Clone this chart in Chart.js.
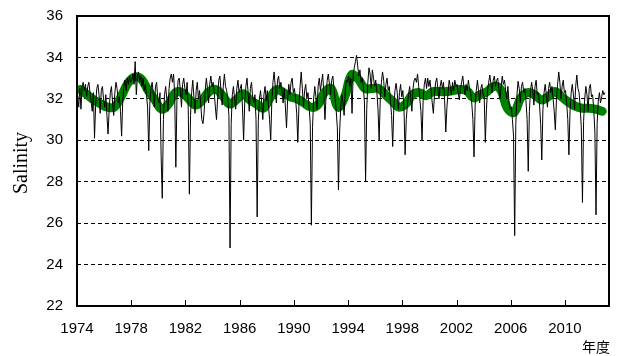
<!DOCTYPE html>
<html>
<head>
<meta charset="utf-8">
<script src="https://cdn.jsdelivr.net/npm/chart.js@4.4.1/dist/chart.umd.min.js"></script>
<style>
  html, body { margin: 0; padding: 0; background: #fff; }
  #wrap { width: 622px; height: 356px; }
</style>
</head>
<body>
<div id="wrap"><canvas id="chart" width="622" height="356"></canvas></div>
<script>
/* ================= DATA ================= */
const startYear = 1974;
const tickYears = [1974, 1978, 1982, 1986, 1990, 1994, 1998, 2002, 2006, 2010];

// monthly salinity, one row per year (12 values)
const monthlySalinity = [
  32.2, 31.6, 32.5, 31.5, 32.6, 32.8, 32.4, 32.7, 32.1, 32.6, 32.8, 32.3, // 1974
  31.9, 31.4, 32.3, 30.1, 31.7, 32.5, 32.7, 32.2, 31.3, 32.4, 32.6, 32.0, // 1975
  31.6, 32.2, 31.2, 30.3, 31.5, 32.3, 32.6, 31.8, 31.2, 32.3, 32.8, 32.5, // 1976
  31.8, 32.1, 31.4, 30.2, 31.9, 32.6, 32.9, 32.4, 33.0, 32.7, 33.1, 32.8, // 1977
  32.9, 33.2, 32.7, 33.8, 32.2, 33.1, 33.3, 32.8, 33.1, 32.6, 33.0, 32.4, // 1978
  32.7, 32.2, 31.6, 29.5, 31.8, 32.5, 32.8, 32.3, 31.6, 32.6, 32.8, 32.0, // 1979
  31.8, 32.3, 29.2, 27.2, 31.0, 32.2, 32.6, 32.0, 31.4, 32.5, 33.0, 33.2, // 1980
  32.8, 33.2, 32.2, 28.7, 32.0, 32.9, 33.0, 32.4, 31.6, 32.7, 33.0, 32.5, // 1981
  32.2, 32.8, 31.5, 27.4, 31.2, 32.3, 32.9, 32.1, 31.3, 32.4, 32.8, 32.0, // 1982
  32.4, 31.8, 31.0, 30.8, 31.3, 32.4, 33.0, 32.5, 31.8, 32.7, 33.1, 32.6, // 1983
  32.8, 32.3, 31.6, 31.0, 32.0, 32.9, 33.1, 32.4, 31.7, 32.6, 33.2, 32.6, // 1984
  32.4, 32.0, 31.2, 24.8, 30.8, 32.2, 32.6, 32.0, 31.5, 32.5, 32.9, 32.3, // 1985
  32.5, 32.7, 31.6, 30.0, 31.8, 32.6, 33.0, 32.3, 31.4, 32.5, 32.8, 32.1, // 1986
  31.8, 32.2, 31.0, 26.3, 30.9, 32.0, 32.4, 31.8, 31.0, 32.2, 32.6, 31.9, // 1987
  32.4, 31.7, 31.0, 30.0, 31.9, 32.8, 33.3, 32.6, 31.8, 32.9, 33.1, 32.5, // 1988
  32.8, 32.4, 31.8, 32.5, 31.6, 30.6, 32.0, 32.7, 32.2, 32.8, 33.0, 32.3, // 1989
  32.5, 32.0, 31.3, 29.9, 31.7, 32.6, 33.3, 32.5, 31.6, 32.4, 32.7, 32.0, // 1990
  32.3, 31.6, 30.8, 25.9, 30.6, 32.0, 32.6, 32.1, 31.5, 32.6, 33.0, 32.4, // 1991
  32.8, 33.2, 32.3, 31.0, 32.1, 32.9, 33.2, 32.7, 32.2, 32.9, 33.1, 32.5, // 1992
  32.0, 31.4, 30.6, 27.6, 30.4, 31.6, 32.2, 31.8, 31.2, 32.4, 32.9, 32.8, // 1993
  33.1, 32.6, 33.0, 31.3, 33.2, 33.5, 33.8, 34.1, 33.6, 33.1, 33.4, 32.8, // 1994
  33.0, 32.6, 31.8, 28.0, 31.5, 32.8, 33.5, 33.2, 32.5, 33.4, 33.0, 32.6, // 1995
  32.9, 32.3, 31.5, 30.0, 32.0, 32.8, 33.3, 32.9, 32.1, 32.7, 33.0, 32.4, // 1996
  32.6, 31.9, 31.2, 29.7, 31.6, 32.4, 32.75, 32.3, 31.5, 32.3, 32.7, 32.1, // 1997
  32.4, 31.5, 29.3, 31.0, 31.7, 32.2, 32.6, 32.0, 31.4, 32.5, 32.9, 33.0, // 1998
  32.8, 33.2, 32.6, 32.0, 31.4, 30.0, 32.0, 32.7, 33.0, 32.5, 33.0, 32.6, // 1999
  32.9, 32.4, 31.8, 31.3, 32.2, 32.8, 33.0, 32.5, 32.0, 32.6, 32.9, 32.5, // 2000
  32.8, 31.9, 30.4, 31.6, 32.3, 32.9, 32.6, 32.2, 32.8, 32.4, 32.9, 32.6, // 2001
  32.7, 32.3, 31.95, 32.5, 32.8, 33.1, 32.6, 32.2, 32.7, 32.4, 32.9, 32.5, // 2002
  32.3, 31.8, 31.0, 29.2, 31.7, 32.4, 32.9, 32.4, 31.8, 32.5, 32.7, 32.2, // 2003
  32.1, 29.9, 31.5, 32.4, 32.8, 33.15, 32.7, 32.3, 32.9, 33.1, 32.6, 32.9, // 2004
  33.0, 32.5, 32.0, 32.6, 33.1, 32.7, 32.9, 32.4, 32.0, 32.6, 31.8, 31.5, // 2005
  31.6, 31.0, 30.2, 25.4, 30.8, 32.2, 32.85, 32.5, 31.8, 32.6, 32.8, 32.3, // 2006
  32.5, 31.9, 31.0, 28.5, 31.4, 32.4, 32.8, 32.4, 31.7, 32.6, 32.9, 32.2, // 2007
  32.3, 31.7, 30.8, 29.05, 31.5, 32.3, 32.7, 32.2, 31.6, 32.5, 32.8, 32.3, // 2008
  32.6, 32.0, 31.4, 30.5, 32.0, 32.7, 33.3, 32.8, 32.0, 32.6, 32.9, 32.3, // 2009
  32.4, 31.8, 31.0, 29.3, 31.4, 32.3, 32.7, 32.2, 31.5, 32.6, 33.15, 32.5, // 2010
  32.3, 31.6, 30.6, 27.0, 30.9, 32.0, 32.6, 32.2, 31.4, 32.5, 32.7, 32.1, // 2011
  32.2, 31.5, 30.4, 26.4, 30.8, 31.9, 32.3, 31.8, 32.1, 32.4, 32.2, 32.3  // 2012
];

// running mean, two values per year (Apr / Oct of each year)
const smoothedSalinity = [
  32.45, 32.2,  // 1974
  31.95, 31.75, // 1975
  31.6, 31.6,   // 1976
  32.1, 32.75,  // 1977
  33.05, 32.95, // 1978
  32.4, 31.95,  // 1979
  31.5, 31.75,  // 1980
  32.3, 32.3,   // 1981
  32.0, 31.7,   // 1982
  31.95, 32.35, // 1983
  32.45, 32.15, // 1984
  31.75, 31.95, // 1985
  32.25, 31.95, // 1986
  31.75, 31.55, // 1987
  32.05, 32.45, // 1988
  32.3, 32.1,   // 1989
  32.0, 31.8,   // 1990
  31.6, 31.7,   // 1991
  32.3, 32.5,   // 1992
  31.6, 32.1,   // 1993
  33.15, 32.95, // 1994
  32.5, 32.5,   // 1995
  32.5, 32.2,   // 1996
  31.9, 31.6,   // 1997
  31.75, 32.2,  // 1998
  32.3, 32.15,  // 1999
  32.35, 32.35, // 2000
  32.35, 32.4,  // 2001
  32.45, 32.4,  // 2002
  32.05, 32.2,  // 2003
  32.35, 32.6,  // 2004
  32.45, 31.55, // 2005
  31.35, 32.05, // 2006
  32.3, 32.2,   // 2007
  31.95, 32.1,  // 2008
  32.35, 32.1,  // 2009
  31.85, 31.65, // 2010
  31.55, 31.55, // 2011
  31.5, 31.4    // 2012
];

/* ================= CHART ================= */
const monthlyPoints = monthlySalinity.map((v, i) => ({ x: startYear + (i + 0.5) / 12, y: v }));
const smoothPoints = smoothedSalinity.map((v, i) => ({ x: startYear + 0.25 + i * 0.5, y: v }));

const framePlugin = {
  id: "frame",
  afterDatasetsDraw(chart) {
    const { ctx, chartArea: a, scales: { x } } = chart;
    ctx.save();
    ctx.strokeStyle = "#000";
    ctx.lineWidth = 2;
    ctx.strokeRect(a.left, a.top, a.right - a.left, a.bottom - a.top);

    // small inward ticks on the year axis
    ctx.lineWidth = 1;
    ctx.beginPath();
    tickYears.forEach(yr => {
      const px = Math.round(x.getPixelForValue(yr)) + 0.5;
      ctx.moveTo(px, a.bottom);
      ctx.lineTo(px, a.bottom - 6);
    });
    ctx.stroke();

    ctx.fillStyle = "#000";
    ctx.font = '14px "Noto Sans CJK JP"';
    ctx.textAlign = "right";
    ctx.textBaseline = "middle";
    ctx.fillText("年度", 610, 347);

    ctx.translate(22, 163);
    ctx.rotate(-Math.PI / 2);
    ctx.font = '20px "Liberation Serif"';
    ctx.textAlign = "center";
    ctx.fillText("Salinity", 0, 0);
    ctx.restore();
  }
};

Chart.defaults.color = "#000";

new Chart(document.getElementById("chart"), {
  type: "line",
  data: {
    datasets: [
      {
        data: monthlyPoints,
        borderColor: "#000",
        borderWidth: 1,
        pointRadius: 0,
        tension: 0,
        order: 0
      },
      {
        data: smoothPoints,
        borderColor: "#008000",
        borderWidth: 9,
        pointRadius: 0,
        tension: 0.4,
        borderCapStyle: "round",
        borderJoinStyle: "round",
        order: 1
      }
    ]
  },
  options: {
    responsive: false,
    animation: false,
    layout: { padding: { left: 0, right: 13, top: 16, bottom: 0 } },
    plugins: { legend: { display: false }, tooltip: { enabled: false } },
    scales: {
      x: {
        type: "linear",
        min: 1974,
        max: 2013.25,
        afterBuildTicks: s => { s.ticks = tickYears.map(v => ({ value: v })); },
        afterFit: s => {
          s.height = 50;
          s.paddingTop = 0; s.paddingBottom = 0; s.paddingLeft = 0; s.paddingRight = 0;
        },
        grid: { display: false, drawTicks: false },
        border: { display: false },
        ticks: {
          font: { family: "Liberation Sans", size: 15 },
          padding: 14,
          maxRotation: 0,
          autoSkip: false,
          callback: v => String(v)
        }
      },
      y: {
        min: 22,
        max: 36,
        afterFit: s => {
          s.width = 77;
          s.paddingTop = 0; s.paddingBottom = 0; s.paddingLeft = 0; s.paddingRight = 0;
        },
        grid: {
          color: "#000",
          lineWidth: 1,
          drawTicks: false
        },
        border: { display: false, dash: [4, 3] },
        ticks: {
          stepSize: 2,
          font: { family: "Liberation Sans", size: 15 },
          padding: 14
        }
      }
    }
  },
  plugins: [framePlugin]
});
</script>
</body>
</html>
